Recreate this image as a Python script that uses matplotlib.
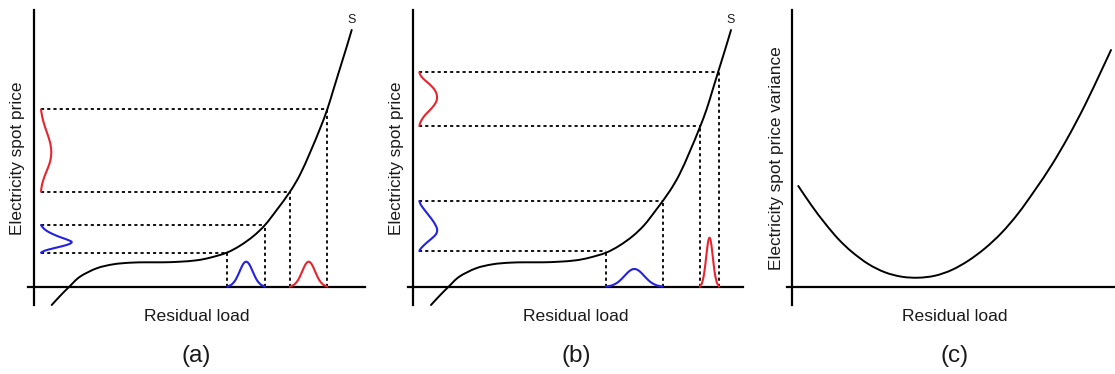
import matplotlib
matplotlib.use("Agg")
import matplotlib.pyplot as plt
from matplotlib.path import Path
from matplotlib.patches import PathPatch

plt.rcParams['font.family'] = ['Liberation Sans', 'DejaVu Sans']

# ---------------- data (arbitrary units) ----------------
# supply curve S (same in panels a and b): residual load -> spot price
S_load = [17.7, 26.5, 35.3, 46, 62.7, 79.3, 96, 112.7, 129.3, 146, 162.7, 176,
          192.7, 206, 219.3, 231, 242.7, 256, 266, 276, 286, 293.3, 299.3, 306,
          312.7, 317.7]
S_price = [-18.3, -8.8, 0, 10, 18.4, 22.4, 24, 24.4, 24.4, 25, 26.4, 29,
           34, 41, 50.5, 61.7, 76.7, 95, 112, 134, 158, 177.4, 196.7, 218.4,
           240, 256.7]

# normalised profile of the load distributions (bell shape)
bump_t = [-1.0, -0.9, -0.8, -0.7, -0.6, -0.5, -0.4, -0.3, -0.2, -0.1, 0.0,
          0.1, 0.2, 0.3, 0.4, 0.5, 0.6, 0.7, 0.8, 0.9, 1.0]
bump_h = [0.0, 0.04, 0.07, 0.14, 0.23, 0.36, 0.52, 0.69, 0.85, 0.96, 1.0,
          0.96, 0.85, 0.69, 0.52, 0.36, 0.23, 0.14, 0.07, 0.04, 0.0]

# panel (a): load ranges (low, high) and peak heights, and price ranges
a_blue_load = (193.3, 231.0)
a_blue_price = (34.0, 61.7)
a_blue_peak = 25.0
a_red_load = (256.0, 293.3)
a_red_price = (95.0, 177.4)
a_red_peak = 25.0

# panel (a) price distributions (price, density)
a_blue_pd_price = [61.7, 59, 56, 53, 50, 47.5, 45, 43, 41, 39, 37, 35.5, 34]
a_blue_pd_dens = [0, 2, 5.5, 11, 18, 25, 30.5, 29, 23, 15, 7, 2.5, 0]
a_red_pd_price = [177.4, 170, 162, 154, 146, 140, 134, 126, 118, 110, 102, 95]
a_red_pd_dens = [0, 1.2, 3.3, 6.0, 8.6, 9.8, 10.3, 9.3, 6.6, 3.4, 1.0, 0]

# panel (b)
b_blue_load = (192.7, 249.4)
b_blue_price = (35.7, 85.7)
b_blue_peak = 17.7
b_red_load = (286.7, 305.7)
b_red_price = (160.7, 214.4)
b_red_peak = 49.0

b_blue_pd_price = [85.7, 82, 78, 74, 70, 66, 62, 58, 55, 52, 49, 46, 43, 40, 37.5, 35.7]
b_blue_pd_dens = [0, 1.5, 4.3, 7.4, 10.5, 13.5, 16, 17.7, 17.7, 16.3, 13.3, 9.8, 6.3, 3.2, 1.0, 0]
b_red_pd_price = [214.4, 211, 207.5, 204, 200.5, 197, 193.5, 190, 186.5, 183, 179.5,
                  176, 172.5, 169, 165, 160.7]
b_red_pd_dens = [0, 1.5, 4.5, 8.5, 12.3, 15.2, 17, 17.7, 17.4, 15.8, 13.2, 10, 6.6,
                 3.8, 1.4, 0]

# panel (c): variance of spot price vs residual load
c_load = [6, 19.4, 32.7, 46, 59.4, 76, 92.7, 109.4, 126, 142.7, 159.4, 176,
          192.7, 209.4, 226, 242.7, 259.4, 276, 292.7, 309.4, 318.7]
c_var = [100.7, 81, 63.4, 47.7, 35, 22.7, 14.4, 10, 9, 11, 16.7, 26,
         38.4, 54, 73.4, 96.7, 121.7, 150, 181.7, 216.7, 236.7]

panel_letters = ["(a)", "(b)", "(c)"]
xlabel_text = "Residual load"
ylabel_texts = ["Electricity spot price", "Electricity spot price",
                "Electricity spot price variance"]

# ---------------- styling ----------------
W, H = 1115, 374
BLUE = "#2222e0"
RED = "#e5262f"
TXT = "#1a1a1a"
fig = plt.figure(figsize=(W / 100, H / 100), dpi=100)


def smooth_line(ax, xs, ys, color, lw, z):
    """Draw a smooth line through the given points (Catmull-Rom as Bezier path)."""
    pts = list(zip(xs, ys))
    verts = [pts[0]]
    codes = [Path.MOVETO]
    n = len(pts)
    for i in range(n - 1):
        p0 = pts[i - 1] if i > 0 else pts[i]
        p1 = pts[i]
        p2 = pts[i + 1]
        p3 = pts[i + 2] if i + 2 < n else pts[i + 1]
        c1 = (p1[0] + (p2[0] - p0[0]) / 6.0, p1[1] + (p2[1] - p0[1]) / 6.0)
        c2 = (p2[0] - (p3[0] - p1[0]) / 6.0, p2[1] - (p3[1] - p1[1]) / 6.0)
        verts += [c1, c2, p2]
        codes += [Path.CURVE4] * 3
    patch = PathPatch(Path(verts, codes), facecolor="none", edgecolor=color, lw=lw,
                      clip_on=False, zorder=z, capstyle="round", joinstyle="round")
    ax.add_patch(patch)


def make_axes(px_left, px_right, xmin):
    ax = fig.add_axes([px_left / W, (H - 305) / H, (px_right - px_left) / W, 295 / H])
    ax.set_xlim(xmin, xmin + (px_right - px_left))
    ax.set_ylim(-18.3, 276.7)
    for s in ("top", "right"):
        ax.spines[s].set_visible(False)
    for s in ("left", "bottom"):
        ax.spines[s].set_position(("data", 0))
        ax.spines[s].set_linewidth(1.6)
        ax.spines[s].set_color("black")
    ax.set_xticks([])
    ax.set_yticks([])
    ax.patch.set_alpha(0)
    return ax


def dashed(ax, xs, ys):
    ax.plot(xs, ys, color="#111111", lw=1.4, dashes=(1.6, 1.6), clip_on=False, zorder=2)


def load_bump(ax, rng, peak, color):
    lo, hi = rng
    xs = [lo + (t + 1) / 2 * (hi - lo) for t in bump_t]
    ys = [peak * h for h in bump_h]
    smooth_line(ax, xs, ys, color, 1.5, 3)


def price_bump(ax, base, prices, dens, color):
    smooth_line(ax, [base + d for d in dens], prices, color, 1.5, 3)


def panel_ab(ax, base, blue_load, blue_price, blue_peak, red_load, red_price, red_peak,
             bpp, bpd, rpp, rpd):
    smooth_line(ax, S_load, S_price, "black", 1.4, 4)
    ax.text(S_load[-1], 266.7, "S", fontsize=9, ha="center", va="center", color=TXT)
    for (l0, l1), (p0, p1) in ((blue_load, blue_price), (red_load, red_price)):
        dashed(ax, [base, l0], [p0, p0])
        dashed(ax, [base, l1], [p1, p1])
        dashed(ax, [l0, l0], [0, p0])
        dashed(ax, [l1, l1], [0, p1])
    load_bump(ax, blue_load, blue_peak, BLUE)
    load_bump(ax, red_load, red_peak, RED)
    price_bump(ax, base, bpp, bpd, BLUE)
    price_bump(ax, base, rpp, rpd, RED)


axA = make_axes(28, 365, -6)
panel_ab(axA, 7.0, a_blue_load, a_blue_price, a_blue_peak, a_red_load, a_red_price,
         a_red_peak, a_blue_pd_price, a_blue_pd_dens, a_red_pd_price, a_red_pd_dens)

axB = make_axes(408, 743, -5.3)
panel_ab(axB, 6.0, b_blue_load, b_blue_price, b_blue_peak, b_red_load, b_red_price,
         b_red_peak, b_blue_pd_price, b_blue_pd_dens, b_red_pd_price, b_red_pd_dens)

axC = make_axes(786.7, 1115, -5.6)
smooth_line(axC, c_load, c_var, "black", 1.4, 4)

for ax, letter, ylab, ylx in zip((axA, axB, axC), panel_letters, ylabel_texts,
                                 (-16, -16.6, -15.6)):
    ax.text(ylx, 128.5, ylab, rotation=90, fontsize=12.4, ha="center", va="center",
            color=TXT, clip_on=False)
    ax.text(162.6, -30, xlabel_text, fontsize=12.6, ha="center", va="center",
            color=TXT, clip_on=False)
    ax.text(162.6, -69.5, letter, fontsize=17.5, ha="center", va="center",
            color=TXT, clip_on=False)

fig.savefig("out.png", dpi=100)
